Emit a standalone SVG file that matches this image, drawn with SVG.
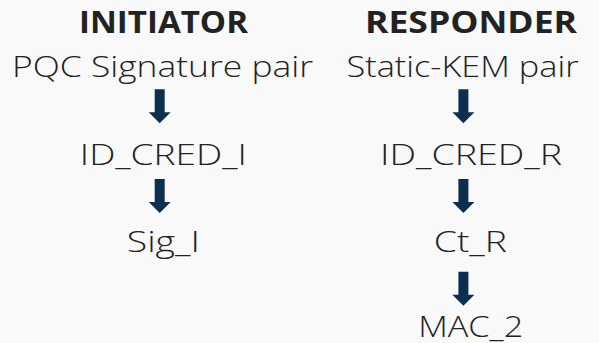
<svg xmlns="http://www.w3.org/2000/svg" width="599" height="343" viewBox="0 0 599 343">
  <defs>
    <style>
      .head { font-family: "Open Sans", "Liberation Sans", sans-serif; font-weight: 700; font-size: 31px; fill: #222222; }
      .lbl { font-family: "Open Sans", "Liberation Sans", sans-serif; font-weight: 300; font-size: 30px; fill: #222222; }
      .arrow { fill: #0d2f4f; }
    </style>
    <path id="down" class="arrow" d="M-5,0 H5 V23 H11 L0,34 L-11,23 H-5 Z"/>
  </defs>
  <rect width="599" height="343" fill="#f9f9f9"/>

  <!-- initiator column -->
  <g id="initiator">
    <text class="head" x="163.5" y="33.3" text-anchor="middle" textLength="169" lengthAdjust="spacingAndGlyphs">INITIATOR</text>
  </g>
  <g id="pqc-signature-pair">
    <text class="lbl" x="162.5" y="76.7" text-anchor="middle" textLength="301" lengthAdjust="spacingAndGlyphs">PQC Signature pair</text>
  </g>
  <g id="id-cred-i">
    <text class="lbl" x="163.3" y="165" text-anchor="middle" textLength="167" lengthAdjust="spacingAndGlyphs">ID_CRED_I</text>
  </g>
  <g id="sig-i">
    <text class="lbl" x="163.3" y="252" text-anchor="middle" textLength="73" lengthAdjust="spacingAndGlyphs">Sig_I</text>
  </g>

  <!-- responder column -->
  <g id="responder">
    <text class="head" x="471" y="33.3" text-anchor="middle" textLength="212" lengthAdjust="spacingAndGlyphs">RESPONDER</text>
  </g>
  <g id="static-kem-pair">
    <text class="lbl" x="462.5" y="76.7" text-anchor="middle" textLength="232" lengthAdjust="spacingAndGlyphs">Static-KEM pair</text>
  </g>
  <g id="id-cred-r">
    <text class="lbl" x="471" y="165" text-anchor="middle" textLength="182" lengthAdjust="spacingAndGlyphs">ID_CRED_R</text>
  </g>
  <g id="ct-r">
    <text class="lbl" x="470.3" y="252" text-anchor="middle" textLength="73" lengthAdjust="spacingAndGlyphs">Ct_R</text>
  </g>
  <g id="mac-2">
    <text class="lbl" x="470.7" y="337" text-anchor="middle" textLength="105" lengthAdjust="spacingAndGlyphs">MAC_2</text>
  </g>

  <!-- connectors -->
  <g id="connectors">
    <use href="#down" x="159.7" y="89.3"/>
    <use href="#down" x="159.7" y="179"/>
    <use href="#down" x="463.4" y="89.3"/>
    <use href="#down" x="463.4" y="179"/>
    <use href="#down" x="463.4" y="271.7"/>
  </g>
</svg>
